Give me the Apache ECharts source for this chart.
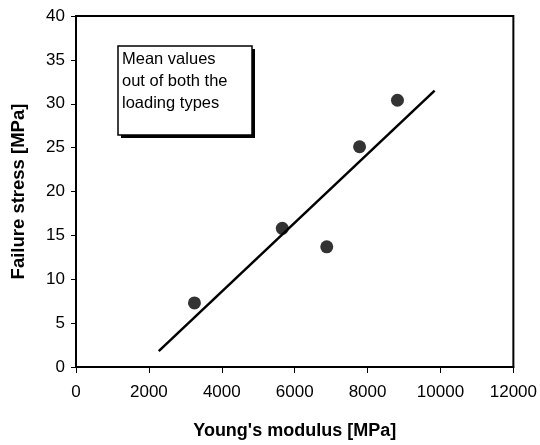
<!DOCTYPE html>
<html>
<head>
<meta charset="utf-8">
<script src="https://cdn.jsdelivr.net/npm/echarts@6/dist/echarts.min.js"></script>
<style>
html,body{margin:0;padding:0;background:#fff;}
#chart{width:540px;height:445px;}
</style>
</head>
<body>
<div id="chart"></div>
<script>
// Data
var modulus = [3250, 5660, 6880, 7780, 8820];      // Young's modulus [MPa]
var stress  = [7.3, 15.8, 13.7, 25.1, 30.4];        // Failure stress [MPa]
var trendX  = [2270, 9840];                         // regression line endpoints
var trendY  = [1.8, 31.5];
var xTicks  = [0, 2000, 4000, 6000, 8000, 10000, 12000];
var yTicks  = [0, 5, 10, 15, 20, 25, 30, 35, 40];
var noteLines = ['Mean values', 'out of both the', 'loading types'];

var pts = modulus.map(function (x, i) { return [x, stress[i]]; });
var trend = trendX.map(function (x, i) { return [x, trendY[i]]; });

var font = 'Liberation Sans, Arial, Helvetica, sans-serif';
var chart = echarts.init(document.getElementById('chart'));
chart.setOption({
  animation: false,
  backgroundColor: '#fff',
  grid: { left: 76, right: 25, top: 16, bottom: 76, show: true, borderColor: '#000', borderWidth: 2, backgroundColor: 'transparent' },
  xAxis: {
    type: 'value', min: xTicks[0], max: xTicks[xTicks.length - 1], interval: 2000,
    name: "Young's modulus [MPa]", nameLocation: 'middle', nameGap: 55,
    nameTextStyle: { color: '#000', fontFamily: font, fontWeight: 'bold', fontSize: 18 },
    axisLine: { lineStyle: { color: '#000', width: 2 } },
    axisTick: { show: true, length: 6, inside: false, lineStyle: { color: '#000', width: 1 } },
    axisLabel: { color: '#000', fontFamily: font, fontSize: 17, margin: 17,
      formatter: function (v) { return String(v); } },
    splitLine: { show: false }
  },
  yAxis: {
    type: 'value', min: yTicks[0], max: yTicks[yTicks.length - 1], interval: 5,
    name: 'Failure stress [MPa]', nameLocation: 'middle', nameGap: 48,
    nameTextStyle: { color: '#000', fontFamily: font, fontWeight: 'bold', fontSize: 18.5 },
    axisLine: { show: true, lineStyle: { color: '#000', width: 2 } },
    axisTick: { show: true, length: 5, inside: false, lineStyle: { color: '#000', width: 1 } },
    axisLabel: { color: '#000', fontFamily: font, fontSize: 17, margin: 11,
      formatter: function (v) { return String(v); } },
    splitLine: { show: false }
  },
  series: [
    {
      type: 'line', data: trend, showSymbol: false, symbol: 'none',
      lineStyle: { color: '#000', width: 2.5 }, z: 2
    },
    {
      type: 'scatter', data: pts, symbol: 'circle', symbolSize: 13,
      itemStyle: { color: '#000' }, z: 3
    }
  ],
  graphic: [
    { type: 'rect', shape: { x: 121, y: 49, width: 134, height: 89 }, style: { fill: '#000' }, z: 10 },
    { type: 'rect', shape: { x: 118, y: 46, width: 134, height: 89 }, style: { fill: '#fff', stroke: '#000', lineWidth: 1.5 }, z: 11 },
    { type: 'text', left: 122, top: 48, z: 12,
      style: { text: noteLines.join('\n'), font: '16.5px ' + font, fill: '#000', lineHeight: 22 } }
  ]
});
</script>
</body>
</html>
